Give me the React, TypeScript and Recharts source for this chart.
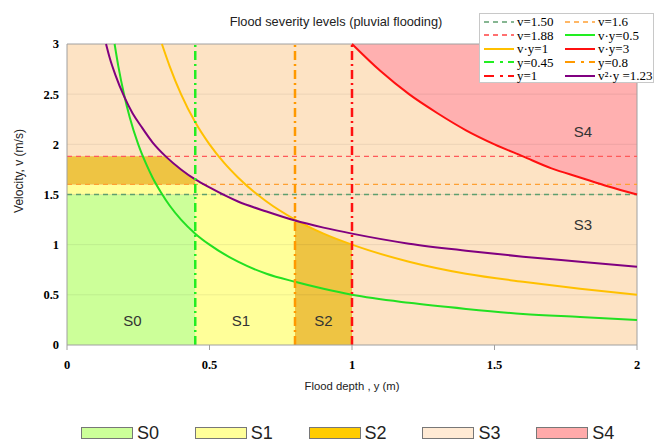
import {
  Area,
  CartesianGrid,
  ComposedChart,
  Label,
  Line,
  ReferenceDot,
  ReferenceLine,
  XAxis,
  YAxis,
} from "recharts";

// hazard curves, depth y (m) -> velocity v (m/s)
const curveVy05 = [
  { depth: 0.167, vel: 3.0 }, { depth: 0.18, vel: 2.78 }, { depth: 0.2, vel: 2.5 },
  { depth: 0.22, vel: 2.27 }, { depth: 0.25, vel: 2.0 }, { depth: 0.28, vel: 1.79 },
  { depth: 0.3, vel: 1.67 }, { depth: 0.33, vel: 1.52 }, { depth: 0.36, vel: 1.39 },
  { depth: 0.4, vel: 1.25 }, { depth: 0.45, vel: 1.11 }, { depth: 0.5, vel: 1.0 },
  { depth: 0.6, vel: 0.83 }, { depth: 0.7, vel: 0.71 }, { depth: 0.8, vel: 0.63 },
  { depth: 0.9, vel: 0.56 }, { depth: 1.0, vel: 0.5 }, { depth: 1.2, vel: 0.42 },
  { depth: 1.4, vel: 0.36 }, { depth: 1.6, vel: 0.31 }, { depth: 1.8, vel: 0.28 },
  { depth: 2.0, vel: 0.25 },
];

const curveVy1 = [
  { depth: 0.333, vel: 3.0 }, { depth: 0.36, vel: 2.78 }, { depth: 0.4, vel: 2.5 },
  { depth: 0.45, vel: 2.22 }, { depth: 0.5, vel: 2.0 }, { depth: 0.55, vel: 1.82 },
  { depth: 0.6, vel: 1.67 }, { depth: 0.7, vel: 1.43 }, { depth: 0.8, vel: 1.25 },
  { depth: 0.9, vel: 1.11 }, { depth: 1.0, vel: 1.0 }, { depth: 1.2, vel: 0.83 },
  { depth: 1.4, vel: 0.71 }, { depth: 1.6, vel: 0.63 }, { depth: 1.8, vel: 0.56 },
  { depth: 2.0, vel: 0.5 },
];

const curveVy3 = [
  { depth: 1.0, vel: 3.0 }, { depth: 1.1, vel: 2.73 }, { depth: 1.2, vel: 2.5 },
  { depth: 1.3, vel: 2.31 }, { depth: 1.4, vel: 2.14 }, { depth: 1.5, vel: 2.0 },
  { depth: 1.6, vel: 1.88 }, { depth: 1.7, vel: 1.76 }, { depth: 1.8, vel: 1.67 },
  { depth: 1.9, vel: 1.58 }, { depth: 2.0, vel: 1.5 },
];

const curveV2y = [
  { depth: 0.137, vel: 3.0 }, { depth: 0.15, vel: 2.86 }, { depth: 0.17, vel: 2.69 },
  { depth: 0.2, vel: 2.48 }, { depth: 0.23, vel: 2.31 }, { depth: 0.26, vel: 2.18 },
  { depth: 0.3, vel: 2.02 }, { depth: 0.35, vel: 1.87 }, { depth: 0.4, vel: 1.75 },
  { depth: 0.45, vel: 1.65 }, { depth: 0.5, vel: 1.57 }, { depth: 0.6, vel: 1.43 },
  { depth: 0.7, vel: 1.33 }, { depth: 0.8, vel: 1.24 }, { depth: 0.9, vel: 1.17 },
  { depth: 1.0, vel: 1.11 }, { depth: 1.2, vel: 1.01 }, { depth: 1.4, vel: 0.94 },
  { depth: 1.6, vel: 0.88 }, { depth: 1.8, vel: 0.83 }, { depth: 2.0, vel: 0.78 },
];

// severity zones as [low, high] velocity bands
const zoneS0 = [
  { depth: 0, band: [0, 1.5] }, { depth: 0.45, band: [0, 1.5] },
];
const zoneS1Strip = [
  { depth: 0, band: [1.5, 1.6] }, { depth: 0.45, band: [1.5, 1.6] },
];
const zoneS1 = [
  { depth: 0.45, band: [0, 1.65] }, { depth: 0.5, band: [0, 1.57] },
  { depth: 0.55, band: [0, 1.5] }, { depth: 0.6, band: [0, 1.43] },
  { depth: 0.65, band: [0, 1.38] }, { depth: 0.7, band: [0, 1.33] },
  { depth: 0.75, band: [0, 1.28] }, { depth: 0.8, band: [0, 1.24] },
];
const zoneS2Strip = [
  { depth: 0, band: [1.6, 1.88] }, { depth: 0.348, band: [1.6, 1.88] },
  { depth: 0.37, band: [1.6, 1.82] }, { depth: 0.4, band: [1.6, 1.75] },
  { depth: 0.425, band: [1.6, 1.7] }, { depth: 0.45, band: [1.6, 1.65] },
];
const zoneS2 = [
  { depth: 0.8, band: [0, 1.24] }, { depth: 0.85, band: [0, 1.18] },
  { depth: 0.9, band: [0, 1.11] }, { depth: 0.95, band: [0, 1.05] },
  { depth: 1.0, band: [0, 1.0] },
];
const zoneS4 = [
  { depth: 1.0, band: [3.0, 3] }, { depth: 1.1, band: [2.73, 3] },
  { depth: 1.2, band: [2.5, 3] }, { depth: 1.3, band: [2.31, 3] },
  { depth: 1.4, band: [2.14, 3] }, { depth: 1.5, band: [2.0, 3] },
  { depth: 1.6, band: [1.88, 3] }, { depth: 1.7, band: [1.76, 3] },
  { depth: 1.8, band: [1.67, 3] }, { depth: 1.9, band: [1.58, 3] },
  { depth: 2.0, band: [1.5, 3] },
];

const velLimits = [1.5, 1.6, 1.88];
const depthLimits = [0.45, 0.8, 1];
const depthTicks = [0, 0.5, 1, 1.5, 2];
const velTicks = [0, 0.5, 1, 1.5, 2, 2.5, 3];
const gridVels = [0.5, 1, 1.5, 2, 2.5];

const regionLabels = [
  { name: "S0", depth: 0.23, vel: 0.24 },
  { name: "S1", depth: 0.61, vel: 0.24 },
  { name: "S2", depth: 0.9, vel: 0.24 },
  { name: "S3", depth: 1.81, vel: 1.2 },
  { name: "S4", depth: 1.81, vel: 2.13 },
];

const severityNames = ["S0", "S1", "S2", "S3", "S4"];
const severitySwatches = ["#ccff99", "#ffff99", "#ffcc00", "#ffead4", "#ffaaaa"];

const limitColors = ["#5f9f6f", "#ffa033", "#ff5a5a"];
const depthColors = ["#22ee22", "#ff9900", "#ff1010"];

const legendItems = [
  { text: "v=1.50", color: "#5f9f6f", dash: "5 4", width: 1.3 },
  { text: "v=1.6", color: "#ffa033", dash: "5 4", width: 1.3 },
  { text: "v=1.88", color: "#ff7070", dash: "5 4", width: 2 },
  { text: "v·y=0.5", color: "#22ee22", dash: "", width: 2 },
  { text: "v·y=1", color: "#ffc000", dash: "", width: 2 },
  { text: "v·y=3", color: "#ff1010", dash: "", width: 2 },
  { text: "y=0.45", color: "#22ee22", dash: "10 6 3 5", width: 2 },
  { text: "y=0.8", color: "#ff9900", dash: "10 6 3 5", width: 2 },
  { text: "y=1", color: "#ff1010", dash: "10 6 3 5", width: 2 },
  { text: "v²·y =1.23", color: "#800080", dash: "", width: 2 },
];

const FRAME = "#a0a0a0";
const TICK_FONT = "'Liberation Serif', 'Times New Roman', serif";

function XTick(props: any) {
  const { x, y, payload } = props;
  return (
    <text x={x} y={y} dy="0.71em" textAnchor="middle" fill="#000" fontSize={12.5} fontWeight="bold" fontFamily={TICK_FONT}>
      {payload.value}
    </text>
  );
}

function YTick(props: any) {
  const { x, y, payload } = props;
  return (
    <text x={x} y={y} dy="0.35em" textAnchor="end" fill="#000" fontSize={12.5} fontWeight="bold" fontFamily={TICK_FONT}>
      {payload.value}
    </text>
  );
}

function TopLegend() {
  return (
    <div
      style={{
        position: "absolute",
        left: 479,
        top: 13,
        width: 173,
        height: 68,
        background: "#fff",
        border: "1px solid #c8c8c8",
        fontFamily: TICK_FONT,
        fontSize: 13,
        color: "#000",
      }}
    >
      {legendItems.map((item, i) => {
        const col = i % 2;
        const row = Math.floor(i / 2);
        return (
          <div
            key={item.text}
            style={{
              position: "absolute",
              left: col === 0 ? 3 : 84,
              top: 1 + row * 13.5,
              height: 13.5,
              display: "flex",
              alignItems: "center",
              whiteSpace: "nowrap",
              lineHeight: "13px",
            }}
          >
            <svg width={32} height={6} style={{ marginRight: 2 }}>
              <line
                x1={1}
                y1={3}
                x2={31}
                y2={3}
                stroke={item.color}
                strokeWidth={item.width}
                strokeDasharray={item.dash || undefined}
              />
            </svg>
            {item.text}
          </div>
        );
      })}
    </div>
  );
}

function BottomLegend() {
  return (
    <>
      {severityNames.map((name, i) => (
        <div
          key={name}
          style={{
            position: "absolute",
            left: 81 + i * 113.8,
            top: 423,
            height: 20,
            display: "flex",
            alignItems: "center",
            fontFamily: "'Liberation Sans', Arial, sans-serif",
            fontSize: 18,
            color: "#222",
          }}
        >
          <span
            style={{
              display: "inline-block",
              width: 50,
              height: 10,
              background: severitySwatches[i],
              border: "1px solid #777",
              marginRight: 4,
            }}
          />
          {name}
        </div>
      ))}
    </>
  );
}

export default function App() {
  return (
    <div
      style={{
        position: "absolute",
        left: 0,
        top: 0,
        width: 654,
        height: 443,
        overflow: "hidden",
        background: "#fff",
        fontFamily: "'Liberation Sans', Arial, sans-serif",
      }}
    >
      <ComposedChart
        width={654}
        height={410}
        margin={{ top: 44, right: 17, left: 7, bottom: 20 }}
      >
        <CartesianGrid fill="#fde3c4" horizontal={false} vertical={false} />
        <XAxis
          type="number"
          dataKey="depth"
          domain={[0, 2]}
          ticks={depthTicks}
          height={45}
          tickSize={5}
          tickMargin={10}
          stroke={FRAME}
          tick={XTick}
        >
          <Label
            value="Flood depth , y (m)"
            position="insideBottom"
            offset={0}
            fill="#222"
            fontSize={11.3}
          />
        </XAxis>
        <YAxis
          type="number"
          domain={[0, 3]}
          ticks={velTicks}
          width={60}
          tickLine={false}
          tickSize={6}
          tickMargin={2}
          stroke={FRAME}
          tick={YTick}
        >
          <Label
            content={() => (
              <text
                x={19}
                y={171}
                transform="rotate(-90 19 171)"
                textAnchor="middle"
                dominantBaseline="central"
                fontSize={12}
                fill="#222"
              >
                Velocity, v (m/s)
              </text>
            )}
          />
        </YAxis>

        <Area data={zoneS0} dataKey="band" type="linear" stroke="none" fill="#ccff99" fillOpacity={1} dot={false} activeDot={false} isAnimationActive={false} />
        <Area data={zoneS1Strip} dataKey="band" type="linear" stroke="none" fill="#ffff99" fillOpacity={1} dot={false} activeDot={false} isAnimationActive={false} />
        <Area data={zoneS1} dataKey="band" type="linear" stroke="none" fill="#ffff99" fillOpacity={1} dot={false} activeDot={false} isAnimationActive={false} />
        <Area data={zoneS2Strip} dataKey="band" type="linear" stroke="none" fill="#eec443" fillOpacity={1} dot={false} activeDot={false} isAnimationActive={false} />
        <Area data={zoneS2} dataKey="band" type="linear" stroke="none" fill="#eec443" fillOpacity={1} dot={false} activeDot={false} isAnimationActive={false} />
        <Area data={zoneS4} dataKey="band" type="linear" stroke="none" fill="#ffb0b0" fillOpacity={1} dot={false} activeDot={false} isAnimationActive={false} />

        {gridVels.map((v) => (
          <ReferenceLine key={`g${v}`} y={v} stroke="rgba(0,0,0,0.07)" strokeWidth={1} />
        ))}
        <ReferenceLine y={3} stroke={FRAME} strokeWidth={1} />
        <ReferenceLine x={2} stroke={FRAME} strokeWidth={1} />

        {velLimits.map((v, i) => (
          <ReferenceLine key={`v${v}`} y={v} stroke={limitColors[i]} strokeWidth={1.3} strokeDasharray="5 4" />
        ))}

        <Line data={curveVy05} dataKey="vel" type="monotone" stroke="#22e022" strokeWidth={2} dot={false} activeDot={false} isAnimationActive={false} />
        <Line data={curveVy1} dataKey="vel" type="monotone" stroke="#ffc000" strokeWidth={2} dot={false} activeDot={false} isAnimationActive={false} />
        <Line data={curveVy3} dataKey="vel" type="monotone" stroke="#ff1010" strokeWidth={2} dot={false} activeDot={false} isAnimationActive={false} />
        <Line data={curveV2y} dataKey="vel" type="monotone" stroke="#800080" strokeWidth={2} dot={false} activeDot={false} isAnimationActive={false} />

        {depthLimits.map((d, i) => (
          <ReferenceLine key={`d${d}`} x={d} stroke={depthColors[i]} strokeWidth={2.5} strokeDasharray="9 4 2 4" />
        ))}

        {regionLabels.map((r) => (
          <ReferenceDot
            key={r.name}
            x={r.depth}
            y={r.vel}
            r={0}
            fill="none"
            stroke="none"
            label={{ value: r.name, position: "center", fill: "#333", fontSize: 15 }}
          />
        ))}

        <text x={336} y={21} textAnchor="middle" dominantBaseline="central" fontSize={12.8} fill="#222">
          Flood severity levels (pluvial flooding)
        </text>
      </ComposedChart>
      <TopLegend />
      <BottomLegend />
    </div>
  );
}
